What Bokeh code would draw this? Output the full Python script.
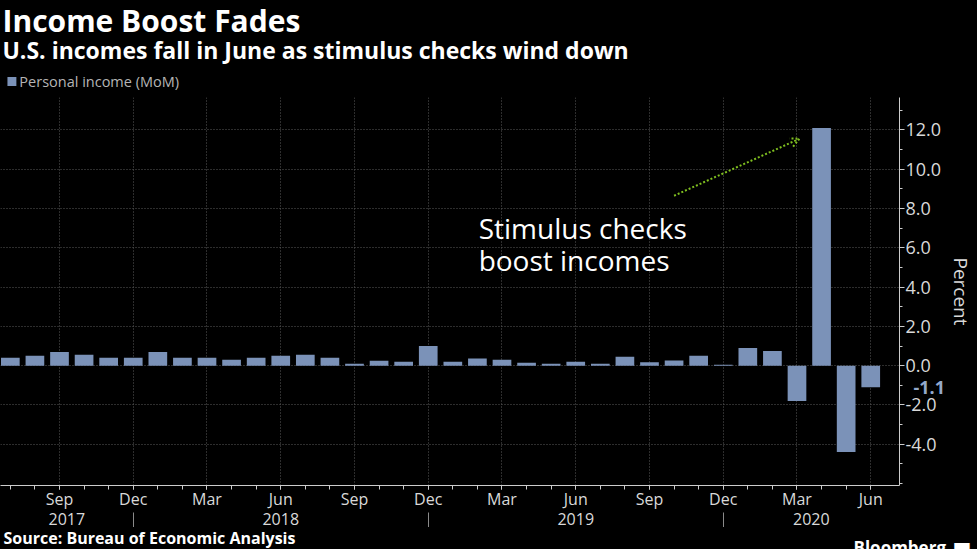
from bokeh.plotting import figure
from bokeh.layouts import column
from bokeh.models import (Label, Range1d, FixedTicker, Arrow, OpenHead,
                          NumeralTickFormatter, LinearAxis)
from bokeh.core.properties import value
from bokeh.embed import file_html
from bokeh.resources import INLINE

# ---- data ----
months = ["Jul", "Aug", "Sep", "Oct", "Nov", "Dec"] + \
         ["Jan", "Feb", "Mar", "Apr", "May", "Jun", "Jul", "Aug", "Sep", "Oct", "Nov", "Dec"] * 2 + \
         ["Jan", "Feb", "Mar", "Apr", "May", "Jun"]
income_mom = [0.4, 0.5, 0.7, 0.55, 0.4, 0.4,
              0.7, 0.4, 0.4, 0.3, 0.4, 0.5, 0.55, 0.4, 0.1, 0.25, 0.2, 1.0,
              0.2, 0.37, 0.3, 0.15, 0.1, 0.2, 0.1, 0.45, 0.17, 0.26, 0.5, 0.05,
              0.9, 0.75, -1.8, 12.1, -4.4, -1.1]
years = ["2017", "2018", "2019", "2020"]
y_ticks = [-4.0, -2.0, 0.0, 2.0, 4.0, 6.0, 8.0, 10.0, 12.0]

BAR = "#7b92b8"
GRID = "#5a5a5a"
TXT = "#d9d9d9"
AX = "#cccccc"
FONT = "Open Sans"
W = 977
RB = 71                 # right border (axis area)
FW = W - RB             # frame width
HH, FH = 90, 22
MH = 549 - HH - FH

x = list(range(len(income_mom)))
major = [i for i, m in enumerate(months) if m in ("Sep", "Dec", "Mar", "Jun")]
dec_idx = [i for i, m in enumerate(months) if m == "Dec"]
X0, X1 = -0.4, 36.17


def blank(h):
    f = figure(width=W, height=h, x_range=Range1d(0, FW), y_range=Range1d(h, 0),
               title=None, output_backend="svg", toolbar_location=None,
               x_axis_type=None, y_axis_type=None, min_border=0,
               min_border_right=RB, background_fill_color="black",
               border_fill_color="black", outline_line_color=None)
    f.grid.visible = False
    return f


def bare_axis(ax):
    ax.axis_line_color = None
    ax.major_tick_line_color = None
    ax.minor_tick_line_color = None
    ax.major_tick_out = 0
    ax.major_tick_in = 0
    ax.minor_tick_out = 0
    ax.minor_tick_in = 0


# ---- header (titles + legend) ----
header = blank(HH)
header.text(x=[2], y=[20], text=["Income Boost Fades"], text_color="white",
            text_font=value(FONT), text_font_style="bold", text_font_size="30px",
            text_baseline="middle")
header.text(x=[2], y=[49], text=["U.S. incomes fall in June as stimulus checks wind down"],
            text_color="white", text_font=value(FONT), text_font_style="bold",
            text_font_size="23px", text_baseline="middle")
header.rect(x=[11.5], y=[81], width=9, height=9, fill_color=BAR, line_color=None)
header.text(x=[19], y=[81], text=["Personal income (MoM)"], text_color="#b5b5b5",
            text_font=value(FONT), text_font_size="14.5px", text_baseline="middle")

# ---- main chart ----
p = figure(width=W, height=MH, title=None, output_backend="svg", toolbar_location=None,
           x_range=Range1d(X0, X1), y_range=Range1d(-6.1, 13.65),
           y_axis_location="right", background_fill_color="black",
           border_fill_color="black", outline_line_color=None,
           min_border_top=7, min_border_bottom=0, min_border_left=0,
           min_border_right=RB)

p.vbar(x=x, top=income_mom, bottom=0, width=0.76, fill_color=BAR, line_color=None)

p.xaxis.ticker = FixedTicker(ticks=major, minor_ticks=x)
p.xaxis.major_label_overrides = {i: months[i] for i in major}
p.xaxis.axis_line_color = AX
p.xaxis.major_tick_line_color = AX
p.xaxis.minor_tick_line_color = AX
p.xaxis.major_tick_in = 0
p.xaxis.major_tick_out = 4
p.xaxis.minor_tick_in = 0
p.xaxis.minor_tick_out = 4
p.xaxis.major_label_text_color = TXT
p.xaxis.major_label_text_font = FONT
p.xaxis.major_label_text_font_size = "16px"
p.xaxis.major_label_standoff = -2

# year axis with separators at December
bounds = [X0] + dec_idx + [X1]
year_pos = [(a + b) / 2 for a, b in zip(bounds[:-1], bounds[1:])]
yax = LinearAxis(ticker=FixedTicker(ticks=year_pos, minor_ticks=dec_idx),
                 major_label_overrides={yp: yr for yp, yr in zip(year_pos, years)})
bare_axis(yax)
yax.minor_tick_out = 21
yax.minor_tick_line_color = "#8a8a8a"
yax.major_label_text_color = TXT
yax.major_label_text_font = FONT
yax.major_label_text_font_size = "16px"
yax.major_label_standoff = -21
p.add_layout(yax, "below")

# y axis (right)
p.yaxis.ticker = FixedTicker(ticks=y_ticks, minor_ticks=list(range(-6, 14)))
p.yaxis.formatter = NumeralTickFormatter(format="0.0")
p.yaxis.axis_line_color = AX
p.yaxis.major_tick_line_color = AX
p.yaxis.minor_tick_line_color = AX
p.yaxis.major_tick_in = 0
p.yaxis.major_tick_out = 5
p.yaxis.minor_tick_in = 0
p.yaxis.minor_tick_out = 3
p.yaxis.major_label_text_color = TXT
p.yaxis.major_label_text_font = FONT
p.yaxis.major_label_text_font_size = "18px"
p.yaxis.major_label_standoff = 1
p.yaxis.axis_label = "Percent"
p.yaxis.axis_label_text_color = TXT
p.yaxis.axis_label_text_font = FONT
p.yaxis.axis_label_text_font_size = "19px"
p.yaxis.axis_label_text_font_style = "normal"
p.yaxis.axis_label_standoff = 4

# last value tag: an extra right axis with one tick, pulled back over the main axis
last = income_mom[-1]
tagax = LinearAxis(ticker=FixedTicker(ticks=[last]),
                   formatter=NumeralTickFormatter(format="0.0"))
bare_axis(tagax)
tagax.major_label_text_color = "#93a9cc"
tagax.major_label_text_font = FONT
tagax.major_label_text_font_style = "bold"
tagax.major_label_text_font_size = "18px"
tagax.major_label_standoff = -64
p.add_layout(tagax, "right")

p.xgrid.ticker = FixedTicker(ticks=major)
p.ygrid.ticker = FixedTicker(ticks=y_ticks)
for g in (p.xgrid, p.ygrid):
    g.grid_line_color = GRID
    g.grid_line_dash = "1 2"
    g.grid_line_width = 1

# annotation
p.add_layout(Label(x=19.05, y=7.0, text="Stimulus checks", text_color="white",
                   text_font=FONT, text_font_size="28px", text_baseline="alphabetic"))
p.add_layout(Label(x=19.05, y=5.4, text="boost incomes", text_color="white",
                   text_font=FONT, text_font_size="28px", text_baseline="alphabetic"))
p.add_layout(Arrow(x_start=27.0, y_start=8.65, x_end=32.1, y_end=11.55,
                   line_color="#7fbf1f", line_width=2, line_dash="2 2",
                   end=OpenHead(size=9, line_color="#7fbf1f", line_width=2,
                                line_dash="2 2")))

# ---- footer ----
footer = blank(FH)
footer.text(x=[3], y=[10], text=["Source: Bureau of Economic Analysis"], text_color="white",
            text_font=value(FONT), text_font_style="bold", text_font_size="16px",
            text_baseline="middle")
bbax = LinearAxis(ticker=FixedTicker(ticks=[3]), major_label_overrides={3: "Bloomberg"})
bare_axis(bbax)
bbax.major_label_text_color = "white"
bbax.major_label_text_font = FONT
bbax.major_label_text_font_style = "bold"
bbax.major_label_text_font_size = "17px"
bbax.major_label_standoff = -46
footer.add_layout(bbax, "right")
icax = LinearAxis(ticker=FixedTicker(ticks=[3]), major_label_overrides={3: "■"})
bare_axis(icax)
icax.major_label_text_color = "white"
icax.major_label_text_font = "DejaVu Sans"
icax.major_label_text_font_size = "20px"
icax.major_label_standoff = 4
footer.add_layout(icax, "right")

layout = column(header, p, footer, spacing=0)
html = file_html(layout, INLINE)
html = html.replace("<head>", "<head><style>html,body{background:#000;}</style>", 1)
open("out.html", "w").write(html)
